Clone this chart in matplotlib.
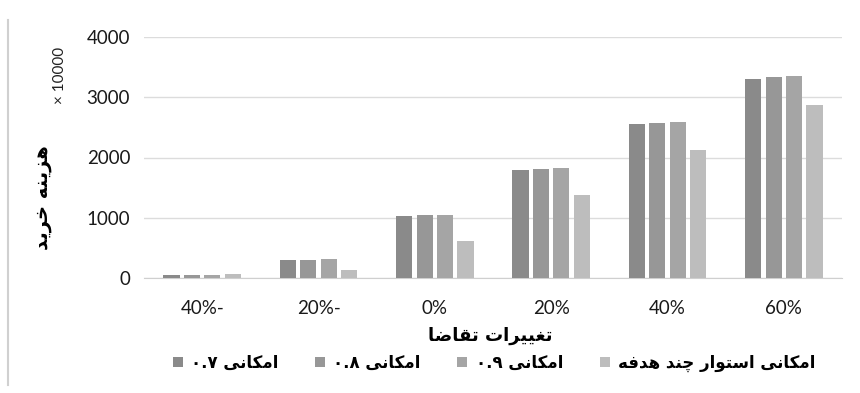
import matplotlib
matplotlib.use("Agg")
import matplotlib.pyplot as plt
import numpy as np

# داده ها
categories = ["40%-", "20%-", "0%", "20%", "40%", "60%"]
s07 = [55, 300, 1030, 1800, 2560, 3310]
s08 = [55, 300, 1040, 1810, 2580, 3340]
s09 = [55, 310, 1040, 1830, 2590, 3360]
robust = [60, 130, 620, 1380, 2120, 2870]
series_names = ["امکانی ۰.۷", "امکانی ۰.۸", "امکانی ۰.۹", "امکانی استوار چند هدفه"]
colors = ["#8a8a8a", "#979797", "#a5a5a5", "#bdbdbd"]

# شکل دهی ساده حروف فارسی (matplotlib راست به چپ را نمی شناسد)
forms = {
    "ا": ("\uFE8D", "\uFE8E", None, None),
    "ت": ("\uFE95", "\uFE96", "\uFE97", "\uFE98"),
    "خ": ("\uFEA5", "\uFEA6", "\uFEA7", "\uFEA8"),
    "د": ("\uFEA9", "\uFEAA", None, None),
    "ر": ("\uFEAD", "\uFEAE", None, None),
    "ز": ("\uFEAF", "\uFEB0", None, None),
    "س": ("\uFEB1", "\uFEB2", "\uFEB3", "\uFEB4"),
    "ض": ("\uFEBD", "\uFEBE", "\uFEBF", "\uFEC0"),
    "غ": ("\uFECD", "\uFECE", "\uFECF", "\uFED0"),
    "ف": ("\uFED1", "\uFED2", "\uFED3", "\uFED4"),
    "ق": ("\uFED5", "\uFED6", "\uFED7", "\uFED8"),
    "م": ("\uFEE1", "\uFEE2", "\uFEE3", "\uFEE4"),
    "ن": ("\uFEE5", "\uFEE6", "\uFEE7", "\uFEE8"),
    "ه": ("\uFEE9", "\uFEEA", "\uFEEB", "\uFEEC"),
    "و": ("\uFEED", "\uFEEE", None, None),
    "ک": ("\uFB8E", "\uFB8F", "\uFB90", "\uFB91"),
    "ی": ("\uFBFC", "\uFBFD", "\uFBFE", "\uFBFF"),
    "چ": ("\uFB7A", "\uFB7B", "\uFB7C", "\uFB7D"),
}

def fa(text):
    out = []
    for i, c in enumerate(text):
        if c not in forms:
            out.append(c)
            continue
        prev = text[i - 1] if i > 0 else ""
        nxt = text[i + 1] if i + 1 < len(text) else ""
        pj = prev in forms and forms[prev][2] is not None
        nj = forms[c][2] is not None and nxt in forms
        f = forms[c]
        if pj and nj:
            out.append(f[3])
        elif pj:
            out.append(f[1])
        elif nj:
            out.append(f[2])
        else:
            out.append(f[0])
    # ترتیب نمایش: رشته های عددی چپ به راست می مانند
    runs = []
    for c in out:
        ltr = c.isdigit() or c in ".%" or c.isascii() and c.isalpha()
        if runs and runs[-1][0] == ltr:
            runs[-1][1].append(c)
        else:
            runs.append([ltr, [c]])
    vis = ""
    for ltr, chars in reversed(runs):
        vis += "".join(chars) if ltr else "".join(reversed(chars))
    return vis

plt.rcParams["font.family"] = ["Lato", "DejaVu Sans"]

fig = plt.figure(figsize=(8.6, 3.93), dpi=100)
ax = fig.add_axes([144 / 860, 115 / 393, 698 / 860, 241 / 393])

x = np.arange(len(categories))
w = 0.175
data = [s07, s08, s09, robust]
for k, vals in enumerate(data):
    ax.bar(x + (k - 1.5) * w, vals, width=w * 0.8, color=colors[k],
           label=fa(series_names[k]), zorder=3)

ax.set_xlim(-0.5, len(categories) - 0.5)
ax.set_ylim(0, 4000)
ax.set_yticks([0, 1000, 2000, 3000, 4000])
ax.set_xticks(x)
ax.set_xticklabels(categories)
ax.grid(axis="y", color="#dcdcdc", linewidth=1, zorder=0)
for sp in ["top", "right", "left"]:
    ax.spines[sp].set_visible(False)
ax.spines["bottom"].set_color("#cfcfcf")
ax.tick_params(axis="both", length=0, labelsize=13.5, colors="#1a1a1a")
ax.tick_params(axis="x", pad=16)
ax.tick_params(axis="y", pad=10)

fig.text(42 / 860, 1 - 198 / 393, fa("هزینه خرید"), rotation=90, ha="center",
         va="center", fontsize=14, fontweight="bold", family="DejaVu Sans")
fig.text(60 / 860, 1 - 75 / 393, "× 10000", rotation=90, ha="center",
         va="center", fontsize=11, color="#222222")
fig.text(490 / 860, 1 - 336 / 393, fa("تغییرات تقاضا"), ha="center",
         va="center", fontsize=13, fontweight="bold", family="DejaVu Sans")

leg = fig.legend(loc="center", bbox_to_anchor=(494 / 860, 1 - 363 / 393), ncol=4,
                 frameon=False, handlelength=0.6, handleheight=0.6,
                 handletextpad=0.5, columnspacing=2.2,
                 prop={"family": "DejaVu Sans", "weight": "bold", "size": 12})

# قاب سمت چپ
fig.add_artist(plt.Line2D([8 / 860, 8 / 860], [8 / 393, 1 - 20 / 393],
                          color="#d0d0d0", linewidth=1.5))

fig.savefig("out.png", dpi=100)
